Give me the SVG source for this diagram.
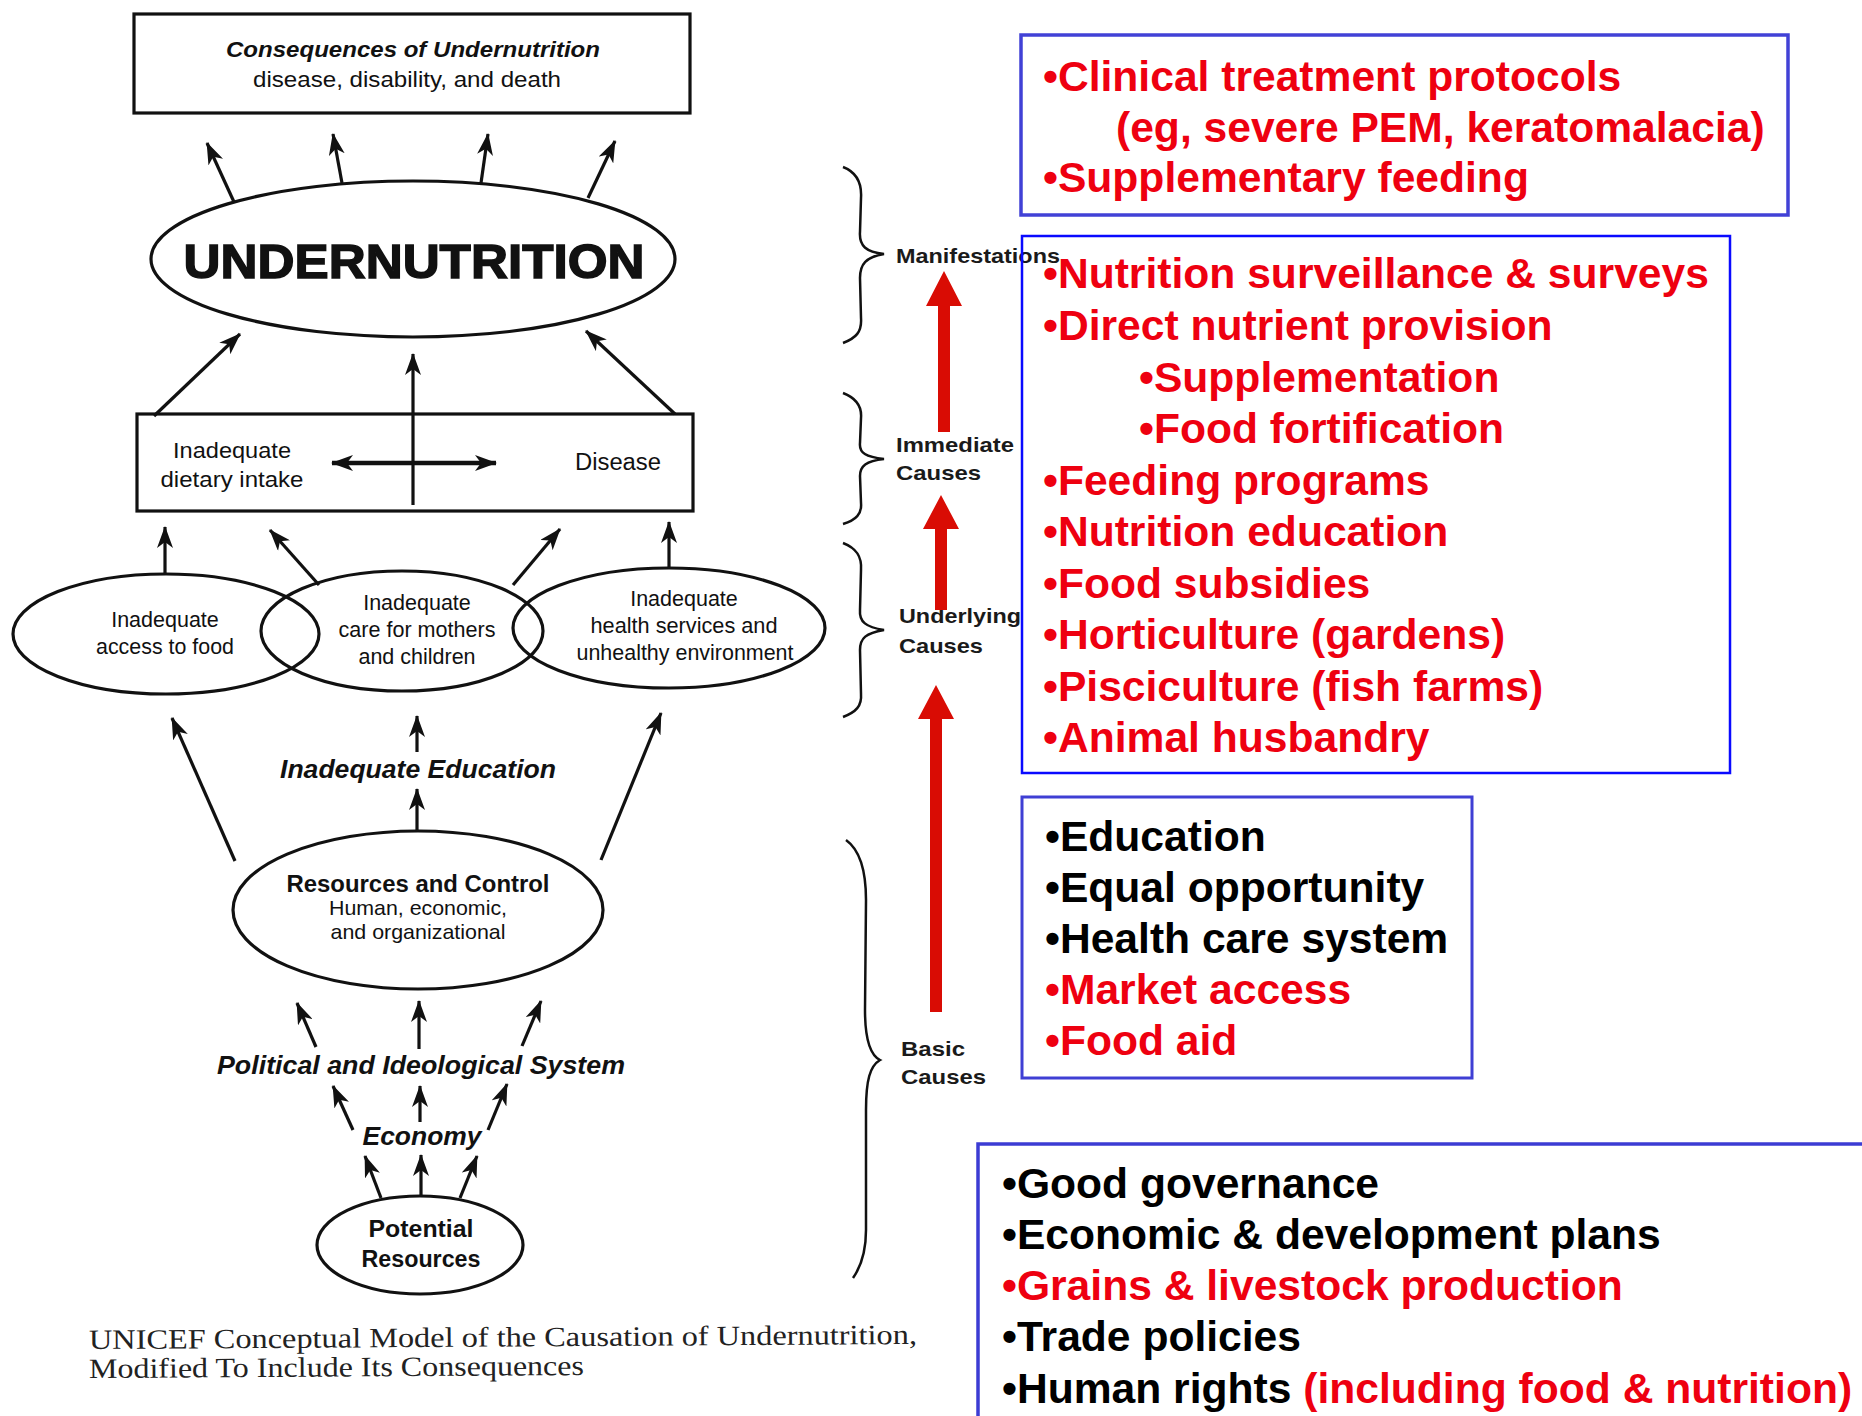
<svg xmlns="http://www.w3.org/2000/svg" width="1862" height="1416" viewBox="0 0 1862 1416">
<defs>
<marker id="ah" viewBox="0 0 22 16" refX="21" refY="8" markerWidth="22" markerHeight="16" markerUnits="userSpaceOnUse" orient="auto">
<path d="M0,0 L22,8 L0,16 L6,8 Z" fill="#111"/>
</marker>
<marker id="ahs" viewBox="0 0 22 16" refX="1" refY="8" markerWidth="22" markerHeight="16" markerUnits="userSpaceOnUse" orient="auto">
<path d="M22,0 L0,8 L22,16 L16,8 Z" fill="#111"/>
</marker>
<style>
.bk{fill:none;stroke:#111;stroke-width:3.2}
.ar{fill:none;stroke:#111;stroke-width:3.2;marker-end:url(#ah)}
.br{fill:none;stroke:#111;stroke-width:2.5}
.t{font-family:"Liberation Sans",Arial,sans-serif;fill:#111;text-anchor:middle}
.tb{font-family:"Liberation Sans",Arial,sans-serif;fill:#111;font-weight:bold;text-anchor:middle}
.tbi{font-family:"Liberation Sans",Arial,sans-serif;fill:#111;font-weight:bold;font-style:italic;text-anchor:middle}
.lab{font-family:"Liberation Sans",Arial,sans-serif;fill:#1a1a1a;font-weight:bold;font-size:21px}
.cap{font-family:"Liberation Serif","Times New Roman",serif;fill:#222;font-size:28px}
.bx{font-family:"Liberation Sans",Arial,sans-serif;font-weight:bold;font-size:42.6px}
.red{fill:#ee0010}
.blk{fill:#000}
.red-ar{fill:#d90c04}
</style>
</defs>
<rect width="1862" height="1416" fill="#fff"/>

<g id="consequences">
<rect x="134" y="14" width="556" height="99" class="bk"/>
<text x="413" y="57" class="tbi" font-size="22" textLength="374" lengthAdjust="spacingAndGlyphs">Consequences of Undernutrition</text>
<text x="407" y="87" class="t" font-size="22" textLength="308" lengthAdjust="spacingAndGlyphs">disease, disability, and death</text>
</g>

<g id="undernutrition">
<ellipse cx="413" cy="259" rx="262" ry="78" class="bk"/>
<text x="414" y="278" class="tb" font-size="49" stroke="#111" stroke-width="1.5" textLength="461" lengthAdjust="spacingAndGlyphs">UNDERNUTRITION</text>
</g>

<g id="immediate">
<rect x="137" y="414" width="556" height="97" class="bk"/>
<text x="232" y="458" class="t" font-size="22" textLength="118" lengthAdjust="spacingAndGlyphs">Inadequate</text>
<text x="232" y="487" class="t" font-size="22" textLength="143" lengthAdjust="spacingAndGlyphs">dietary intake</text>
<text x="618" y="470" class="t" font-size="23" textLength="86" lengthAdjust="spacingAndGlyphs">Disease</text>
</g>

<g id="access-food">
<ellipse cx="166" cy="634" rx="153" ry="60" class="bk"/>
<text x="165" y="627" class="t" font-size="21.5">Inadequate</text>
<text x="165" y="654" class="t" font-size="21.5" textLength="138" lengthAdjust="spacingAndGlyphs">access to food</text>
</g>

<g id="care">
<ellipse cx="402" cy="631" rx="141" ry="60" class="bk"/>
<text x="417" y="610" class="t" font-size="21.5">Inadequate</text>
<text x="417" y="637" class="t" font-size="21.5" textLength="157" lengthAdjust="spacingAndGlyphs">care for mothers</text>
<text x="417" y="664" class="t" font-size="21.5">and children</text>
</g>

<g id="health">
<ellipse cx="669" cy="628" rx="156" ry="60" class="bk"/>
<text x="684" y="606" class="t" font-size="21.5">Inadequate</text>
<text x="684" y="633" class="t" font-size="21.5" textLength="187" lengthAdjust="spacingAndGlyphs">health services and</text>
<text x="685" y="660" class="t" font-size="21.5" textLength="217" lengthAdjust="spacingAndGlyphs">unhealthy environment</text>
</g>

<g id="education">
<text x="418" y="778" class="tbi" font-size="25" textLength="276" lengthAdjust="spacingAndGlyphs">Inadequate Education</text>
</g>

<g id="resources">
<ellipse cx="418" cy="910" rx="185" ry="79" class="bk"/>
<text x="418" y="892" class="tb" font-size="23" textLength="263" lengthAdjust="spacingAndGlyphs">Resources and Control</text>
<text x="418" y="915" class="t" font-size="21" textLength="178" lengthAdjust="spacingAndGlyphs">Human, economic,</text>
<text x="418" y="939" class="t" font-size="21" textLength="175" lengthAdjust="spacingAndGlyphs">and organizational</text>
</g>

<g id="political">
<text x="421" y="1074" class="tbi" font-size="26" textLength="408" lengthAdjust="spacingAndGlyphs">Political and Ideological System</text>
</g>

<g id="economy">
<text x="422" y="1145" class="tbi" font-size="26" textLength="119" lengthAdjust="spacingAndGlyphs">Economy</text>
</g>

<g id="potential">
<ellipse cx="420" cy="1245" rx="103" ry="49" class="bk"/>
<text x="421" y="1237" class="tb" font-size="23" textLength="105" lengthAdjust="spacingAndGlyphs">Potential</text>
<text x="421" y="1267" class="tb" font-size="23" textLength="119" lengthAdjust="spacingAndGlyphs">Resources</text>
</g>

<g id="caption">
<text x="89" y="1349" class="cap" textLength="828" lengthAdjust="spacingAndGlyphs" transform="rotate(-0.35 89 1349)">UNICEF Conceptual Model of the Causation of Undernutrition,</text>
<text x="89" y="1378" class="cap" textLength="495" lengthAdjust="spacingAndGlyphs" transform="rotate(-0.35 89 1378)">Modified To Include Its Consequences</text>
</g>

<g id="braces">
<path class="br" d="M843,167 C856,172 862,182 861,198 L860,232 C859,246 866,252 884,254 C866,257 860,264 860,278 L861,318 C862,332 856,338 843,343"/>
<path class="br" d="M843,393 C856,398 862,406 861,418 L860,443 C859,453 866,457 884,459 C866,461 860,466 860,476 L861,503 C862,514 856,520 843,524"/>
<path class="br" d="M843,543 C856,548 862,556 861,570 L860,610 C859,622 866,627 884,630 C866,633 860,638 860,650 L861,694 C862,706 856,712 843,717"/>
<path class="br" stroke-width="3.2" d="M846,840 C860,850 866,870 866,900 L865,1010 C865,1040 870,1055 880,1060 C870,1066 866,1080 866,1110 L866,1230 C866,1255 860,1268 853,1278"/>
</g>

<g id="brace-labels">
<text x="896" y="263" class="lab" textLength="164" lengthAdjust="spacingAndGlyphs">Manifestations</text>
<text x="896" y="452" class="lab" textLength="118" lengthAdjust="spacingAndGlyphs">Immediate</text>
<text x="896" y="480" class="lab" textLength="85" lengthAdjust="spacingAndGlyphs">Causes</text>
<text x="899" y="623" class="lab" textLength="122" lengthAdjust="spacingAndGlyphs">Underlying</text>
<text x="899" y="653" class="lab" textLength="84" lengthAdjust="spacingAndGlyphs">Causes</text>
<text x="901" y="1056" class="lab" textLength="64" lengthAdjust="spacingAndGlyphs">Basic</text>
<text x="901" y="1084" class="lab" textLength="85" lengthAdjust="spacingAndGlyphs">Causes</text>
</g>

<g id="connectors">
<line class="ar" x1="234" y1="202" x2="207" y2="143"/>
<line class="ar" x1="342" y1="183" x2="333" y2="134"/>
<line class="ar" x1="481" y1="183" x2="488" y2="134"/>
<line class="ar" x1="588" y1="198" x2="615" y2="141"/>
<line class="ar" x1="154" y1="416" x2="240" y2="334"/>
<line class="ar" x1="675" y1="414" x2="586" y2="331"/>
<line class="ar" x1="413" y1="505" x2="413" y2="354"/>
<line x1="332" y1="463" x2="496" y2="463" stroke="#111" stroke-width="4.5" marker-start="url(#ahs)" marker-end="url(#ah)"/>
<line class="ar" x1="165" y1="574" x2="165" y2="527"/>
<line class="ar" x1="319" y1="585" x2="270" y2="530"/>
<line class="ar" x1="513" y1="585" x2="560" y2="529"/>
<line class="ar" x1="669" y1="569" x2="669" y2="522"/>
<line class="ar" x1="235" y1="861" x2="172" y2="718"/>
<line class="ar" x1="601" y1="860" x2="661" y2="713"/>
<line class="ar" x1="417" y1="752" x2="417" y2="716"/>
<line class="ar" x1="417" y1="831" x2="417" y2="789"/>
<line class="ar" x1="316" y1="1047" x2="297" y2="1003"/>
<line class="ar" x1="419" y1="1049" x2="419" y2="1001"/>
<line class="ar" x1="522" y1="1046" x2="541" y2="1001"/>
<line class="ar" x1="353" y1="1130" x2="333" y2="1086"/>
<line class="ar" x1="420" y1="1122" x2="420" y2="1086"/>
<line class="ar" x1="488" y1="1130" x2="507" y2="1084"/>
<line class="ar" x1="381" y1="1198" x2="365" y2="1156"/>
<line class="ar" x1="421" y1="1197" x2="421" y2="1155"/>
<line class="ar" x1="460" y1="1198" x2="477" y2="1156"/>
<polygon class="red-ar" points="938,432 950,432 950,306 962,306 944,271 926,306 938,306"/>
<polygon class="red-ar" points="935,610 947,610 947,529 959,529 941,495 923,529 935,529"/>
<polygon class="red-ar" points="930,1012 942,1012 942,719 954,719 936,685 918,719 930,719"/>
</g>

<g id="box-clinical">
<rect x="1021" y="35" width="767" height="180" fill="none" stroke="#4141d6" stroke-width="3.5"/>
<text class="bx red" x="1043" y="91">•Clinical treatment protocols</text>
<text class="bx red" x="1116" y="142">(eg, severe PEM, keratomalacia)</text>
<text class="bx red" x="1043" y="192">•Supplementary feeding</text>
</g>

<g id="box-programs">
<rect x="1022" y="236" width="708" height="537" fill="none" stroke="#0a0aff" stroke-width="2.5"/>
<text class="bx red" x="1043" y="288">•Nutrition surveillance &amp; surveys</text>
<text class="bx red" x="1043" y="340">•Direct nutrient provision</text>
<text class="bx red" x="1139" y="392">•Supplementation</text>
<text class="bx red" x="1139" y="443">•Food fortification</text>
<text class="bx red" x="1043" y="495">•Feeding programs</text>
<text class="bx red" x="1043" y="546">•Nutrition education</text>
<text class="bx red" x="1043" y="598">•Food subsidies</text>
<text class="bx red" x="1043" y="649">•Horticulture (gardens)</text>
<text class="bx red" x="1043" y="701">•Pisciculture (fish farms)</text>
<text class="bx red" x="1043" y="752">•Animal husbandry</text>
</g>

<g id="box-underlying">
<rect x="1022" y="797" width="450" height="281" fill="none" stroke="#3f3fd4" stroke-width="3"/>
<text class="bx blk" x="1045" y="851">•Education</text>
<text class="bx blk" x="1045" y="902">•Equal opportunity</text>
<text class="bx blk" x="1045" y="953">•Health care system</text>
<text class="bx red" x="1045" y="1004">•Market access</text>
<text class="bx red" x="1045" y="1055">•Food aid</text>
</g>

<g id="box-basic">
<rect x="978" y="1144" width="900" height="300" fill="none" stroke="#3c3cd4" stroke-width="3.5"/>
<text class="bx blk" x="1002" y="1198">•Good governance</text>
<text class="bx blk" x="1002" y="1249">•Economic &amp; development plans</text>
<text class="bx red" x="1002" y="1300">•Grains &amp; livestock production</text>
<text class="bx blk" x="1002" y="1351">•Trade policies</text>
<text class="bx blk" x="1002" y="1403">•Human rights <tspan class="red">(including food &amp; nutrition)</tspan></text>
</g>
</svg>
